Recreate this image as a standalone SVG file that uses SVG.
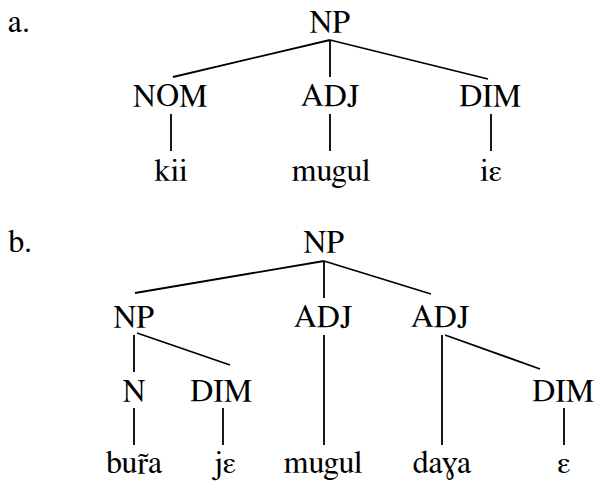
<svg xmlns="http://www.w3.org/2000/svg" width="595" height="481" viewBox="0 0 595 481">
  <style>
    text { font-family: FreeSerif, "Liberation Serif", serif; font-size: 32px; fill: #000; }
    .c { text-anchor: middle; }
    .edge { stroke: #000; stroke-width: 1.8; fill: none; stroke-linecap: butt; }
  </style>
  <rect width="595" height="481" fill="#fff"/>

  <!-- tree (a) -->
  <text id="label-a" x="8" y="32">a.</text>
  <g id="a-np"><text class="c" x="330" y="32">NP</text></g>
  <g id="a-nom"><text class="c" x="170" y="106">NOM</text></g>
  <g id="a-adj"><text class="c" x="330" y="106">ADJ</text></g>
  <g id="a-dim"><text class="c" x="490" y="106">DIM</text></g>
  <g id="a-kii"><text class="c" x="171" y="181">kii</text></g>
  <g id="a-mugul"><text class="c" x="331" y="181">mugul</text></g>
  <g id="a-ie"><text class="c" x="491" y="181">iɛ</text></g>

  <!-- tree (b) -->
  <text id="label-b" x="8" y="252">b.</text>
  <g id="b-np"><text class="c" x="324" y="252">NP</text></g>
  <g id="b-np2"><text class="c" x="134" y="327">NP</text></g>
  <g id="b-adj1"><text class="c" x="323" y="327">ADJ</text></g>
  <g id="b-adj2"><text class="c" x="440" y="327">ADJ</text></g>
  <g id="b-n"><text class="c" x="134" y="401">N</text></g>
  <g id="b-dim1"><text class="c" x="221" y="401">DIM</text></g>
  <g id="b-dim2"><text class="c" x="563" y="401">DIM</text></g>
  <g id="b-bura"><text class="c" x="134" y="473">bur̃a</text></g>
  <g id="b-je"><text class="c" x="224" y="473">jɛ</text></g>
  <g id="b-mugul"><text class="c" x="323" y="473">mugul</text></g>
  <g id="b-daga"><text class="c" x="442" y="473">daɣa</text></g>
  <g id="b-e"><text class="c" x="564" y="473">ɛ</text></g>

  <g id="connectors" class="edge">
    <!-- (a) -->
    <path class="edge" d="M330 40 L173 77 M330 40 L330 77 M330 40 L488 79"/>
    <path class="edge" d="M171 114 V151 M330 114 V151 M491 114 V151"/>
    <!-- (b) -->
    <path class="edge" d="M324 261 L135 293 M324 261 L324 298 M324 261 L431 294"/>
    <path class="edge" d="M134 335 V372 M137 333 L230 365"/>
    <path class="edge" d="M324 335 V445"/>
    <path class="edge" d="M442 335 V445 M445 335 L540 369"/>
    <path class="edge" d="M134 408 V445 M223 408 V445 M564 408 V445"/>
  </g>
</svg>
